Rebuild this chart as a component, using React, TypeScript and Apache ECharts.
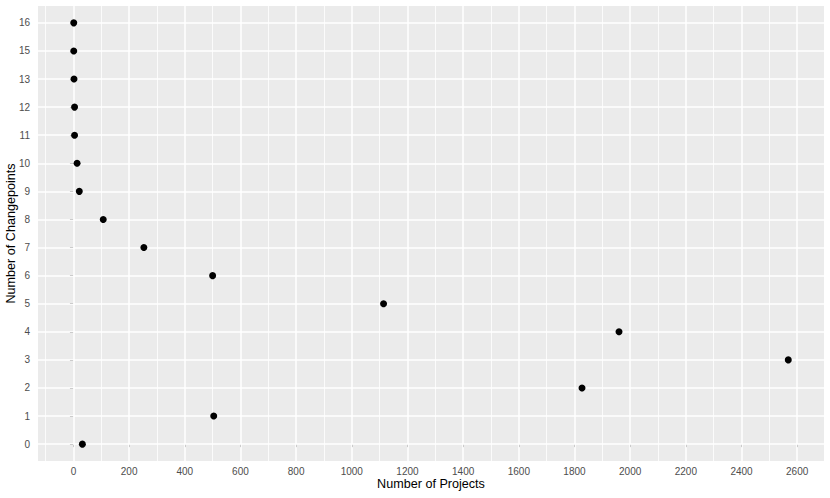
import React, { useEffect, useRef } from "react";
import * as echarts from "echarts";

const changepointLabels = ["0", "1", "2", "3", "4", "5", "6", "7", "8", "9", "10", "11", "12", "13", "15", "16"];
const projectCounts = [32, 504, 1827, 2568, 1960, 1114, 500, 253, 107, 21, 13, 4, 4, 2, 1, 1];
const xMajorTicks = [0, 200, 400, 600, 800, 1000, 1200, 1400, 1600, 1800, 2000, 2200, 2400, 2600];
const xMinorTicks = [-100, 100, 300, 500, 700, 900, 1100, 1300, 1500, 1700, 1900, 2100, 2300, 2500, 2700];

const FONT = "'Liberation Sans', Arial, Helvetica, sans-serif";

export default function App() {
  const ref = useRef<HTMLDivElement>(null);
  useEffect(() => {
    if (!ref.current) return;
    const chart = echarts.init(ref.current, undefined, { renderer: "svg" });
    const xMinData = Math.min(...projectCounts);
    const xMaxData = Math.max(...projectCounts);
    const xPad = (xMaxData - xMinData) * 0.05;
    const yIdx = changepointLabels.map((_, i) => i);
    const points = projectCounts.map((v, i) => [v, i]);

    const gridLines = [
      ...xMinorTicks.map((v) => ({ xAxis: v, lineStyle: { color: "#ffffff", width: 0.8, type: "solid" as const } })),
      ...xMajorTicks.map((v) => ({ xAxis: v, lineStyle: { color: "#ffffff", width: 1.5, type: "solid" as const } })),
      ...yIdx.map((v) => ({ yAxis: v, lineStyle: { color: "#ffffff", width: 1.5, type: "solid" as const } })),
    ];

    chart.setOption({
      animation: false,
      textStyle: { fontFamily: FONT },
      grid: {
        left: 38,
        right: 6,
        top: 6,
        bottom: 37,
        show: true,
        backgroundColor: "#EBEBEB",
        borderWidth: 0,
        containLabel: false,
        outerBoundsMode: "none",
      },
      xAxis: {
        type: "value",
        min: xMinData - xPad,
        max: xMaxData + xPad,
        name: "Number of Projects",
        nameLocation: "middle",
        nameGap: 16,
        nameMoveOverlap: false,
        nameTextStyle: { color: "#000000", fontSize: 12.6, fontFamily: FONT },
        axisLine: { show: false },
        splitLine: { show: false },
        axisTick: { show: true, length: 3, lineStyle: { color: "#333333", width: 1 }, customValues: xMajorTicks },
        axisLabel: {
          color: "#4D4D4D",
          fontSize: 10,
          margin: 5,
          fontFamily: FONT,
          customValues: xMajorTicks,
          formatter: (v: number) => String(Math.round(v)),
        },
      },
      yAxis: {
        type: "value",
        min: -0.6,
        max: changepointLabels.length - 1 + 0.6,
        name: "Number of Changepoints",
        nameLocation: "middle",
        nameGap: 21,
        nameMoveOverlap: false,
        nameRotate: 90,
        nameTextStyle: { color: "#000000", fontSize: 12.6, fontFamily: FONT },
        axisLine: { show: false },
        splitLine: { show: false },
        axisTick: { show: true, length: 3.5, lineStyle: { color: "#333333", width: 1 }, customValues: yIdx },
        axisLabel: {
          color: "#4D4D4D",
          fontSize: 10,
          margin: 8,
          fontFamily: FONT,
          customValues: yIdx,
          formatter: (v: number) => changepointLabels[Math.round(v)] ?? "",
        },
      },
      series: [
        {
          type: "scatter",
          data: points,
          symbolSize: 0,
          z: 1,
          silent: true,
          markLine: { silent: true, symbol: "none", label: { show: false }, data: gridLines, animation: false },
        },
        {
          type: "scatter",
          data: points,
          symbol: "circle",
          symbolSize: 7,
          itemStyle: { color: "#000000", opacity: 1 },
          z: 5,
        },
      ],
    });
    return () => chart.dispose();
  }, []);
  return <div ref={ref} style={{ width: 830, height: 498, position: "absolute", left: 0, top: 0 }} />;
}
